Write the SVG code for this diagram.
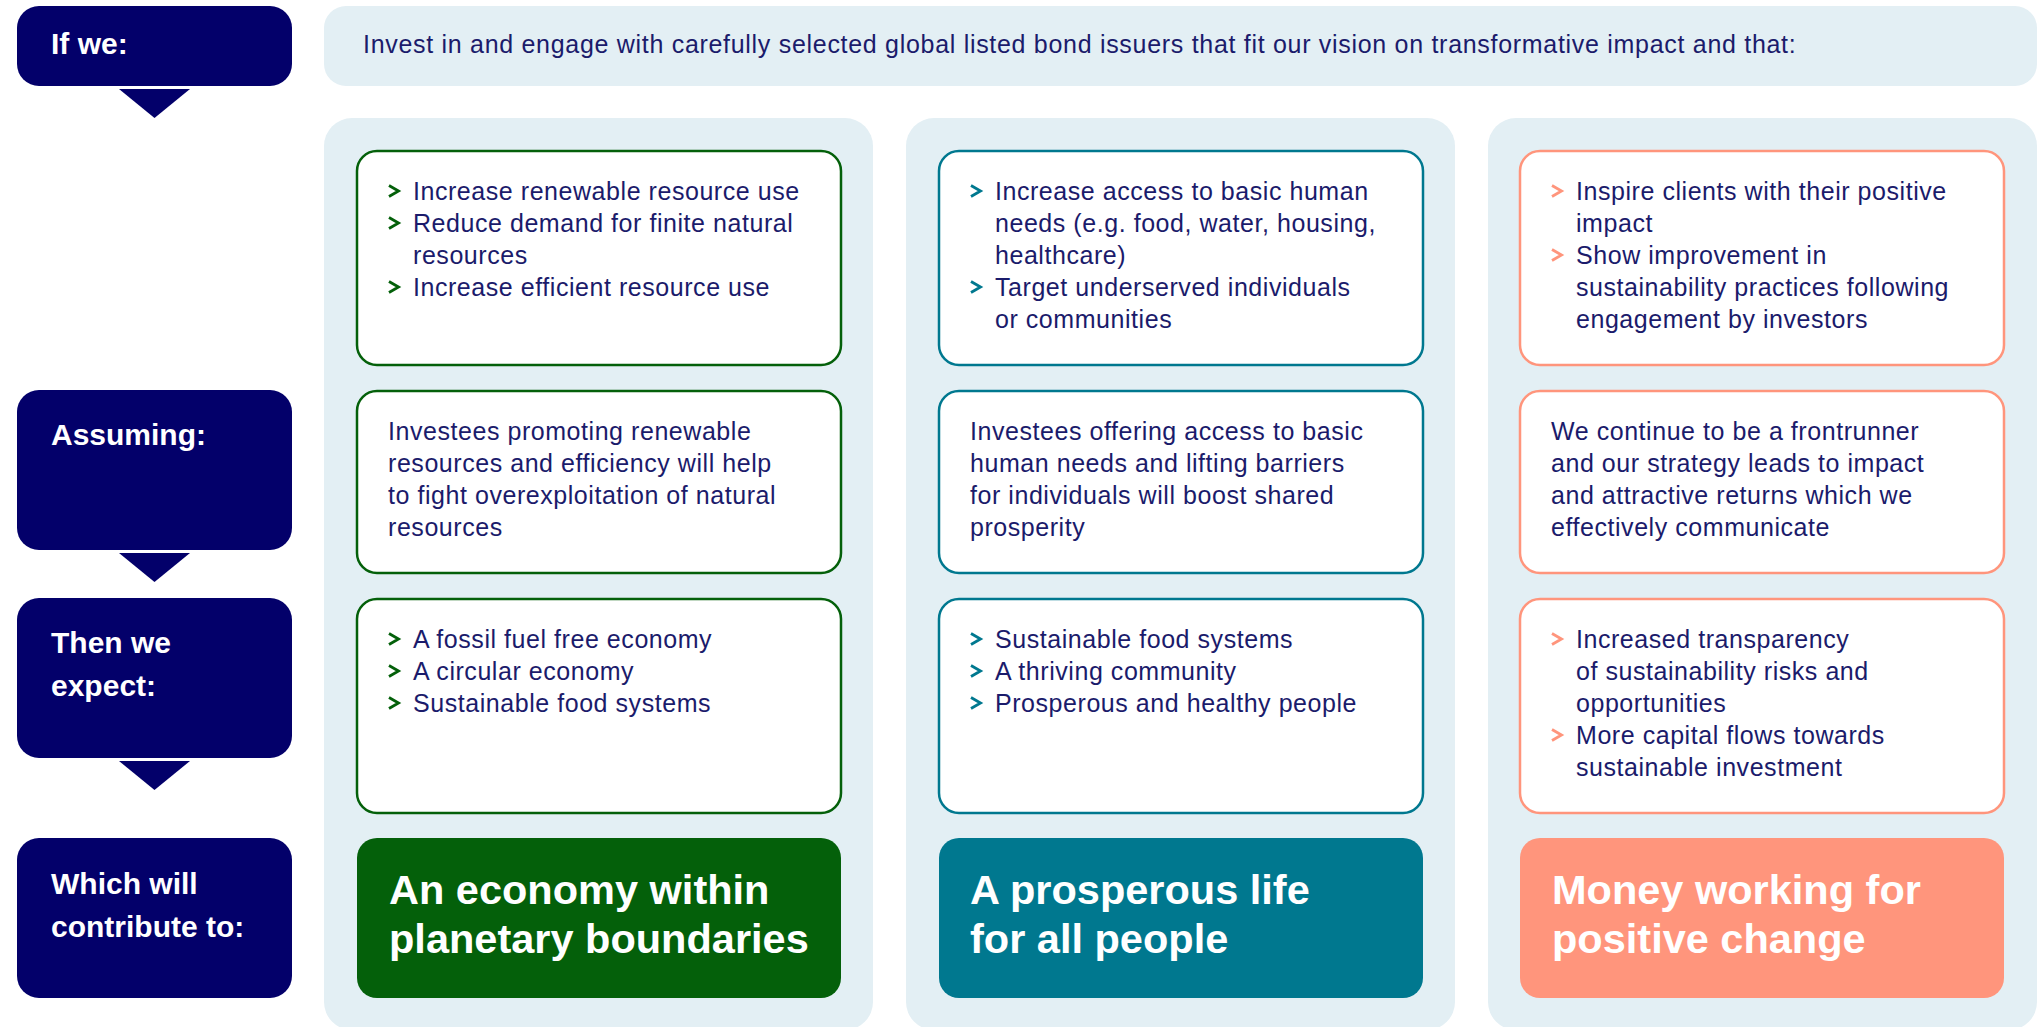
<svg xmlns="http://www.w3.org/2000/svg" xmlns:xlink="http://www.w3.org/1999/xlink" width="2042" height="1027" viewBox="0 0 2042 1027">
<defs>
<style>
.lbl{fill:#03006a}
.lt{font-family:"Liberation Sans",Arial,sans-serif;font-weight:bold;font-size:30px;fill:#ffffff}
.pan{fill:#e3eff4}
.box{fill:#ffffff;stroke-width:2.5}
.g{stroke:#04600a}
.t{stroke:#00788f}
.s{stroke:#ff957c}
.tx{font-family:"Liberation Sans",Arial,sans-serif;font-size:25px;letter-spacing:0.55px;fill:#1b1b6b}
.bn{letter-spacing:0.7px}
.big{font-family:"Liberation Sans",Arial,sans-serif;font-weight:bold;font-size:41.5px;fill:#ffffff}
.chev{fill:none;stroke-width:2.8;stroke-linecap:butt;stroke-linejoin:miter}
.arr{fill:#03006a}
</style>
<path id="cv" d="M0,-5.5 L9.5,0 L0,5.5"/>
</defs>
<rect width="2042" height="1027" fill="#ffffff"/>

<g id="banner">
<rect x="324" y="6" width="1713" height="80" rx="22" class="pan"/>
<text x="363" y="53" class="tx bn">Invest in and engage with carefully selected global listed bond issuers that fit our vision on transformative impact and that:</text>
</g>

<g id="panels">
<rect x="324" y="118" width="549" height="912" rx="28" class="pan"/>
<rect x="906" y="118" width="549" height="912" rx="28" class="pan"/>
<rect x="1488" y="118" width="549" height="912" rx="28" class="pan"/>
</g>

<g id="label-if">
<rect x="17" y="6" width="275" height="80" rx="22" class="lbl"/>
<text x="51" y="54" class="lt">If we:</text>
</g>
<g id="label-assuming">
<rect x="17" y="390" width="275" height="160" rx="22" class="lbl"/>
<text x="51" y="445" class="lt">Assuming:</text>
</g>
<g id="label-then">
<rect x="17" y="598" width="275" height="160" rx="22" class="lbl"/>
<text x="51" y="653" class="lt">Then we</text>
<text x="51" y="696" class="lt">expect:</text>
</g>
<g id="label-which">
<rect x="17" y="838" width="275" height="160" rx="22" class="lbl"/>
<text x="51" y="894" class="lt">Which will</text>
<text x="51" y="937" class="lt">contribute to:</text>
</g>

<g id="connectors">
<polygon points="119,89 190,89 154.5,118" class="arr"/>
<polygon points="119,553 190,553 154.5,582" class="arr"/>
<polygon points="119,761 190,761 154.5,790" class="arr"/>
</g>

<!-- Column 1 -->
<g id="c1r1">
<rect x="357" y="151" width="484" height="214" rx="20" class="box g"/>
<g class="chev g"><use xlink:href="#cv" x="389" y="191"/><use xlink:href="#cv" x="389" y="223"/><use xlink:href="#cv" x="389" y="287"/></g>
<text class="tx"><tspan x="413" y="200">Increase renewable resource use</tspan><tspan x="413" y="232">Reduce demand for finite natural</tspan><tspan x="413" y="264">resources</tspan><tspan x="413" y="296">Increase efficient resource use</tspan></text>
</g>
<g id="c1r2">
<rect x="357" y="391" width="484" height="182" rx="20" class="box g"/>
<text class="tx"><tspan x="388" y="440">Investees promoting renewable</tspan><tspan x="388" y="472">resources and efficiency will help</tspan><tspan x="388" y="504">to fight overexploitation of natural</tspan><tspan x="388" y="536">resources</tspan></text>
</g>
<g id="c1r3">
<rect x="357" y="599" width="484" height="214" rx="20" class="box g"/>
<g class="chev g"><use xlink:href="#cv" x="389" y="639"/><use xlink:href="#cv" x="389" y="671"/><use xlink:href="#cv" x="389" y="703"/></g>
<text class="tx"><tspan x="413" y="648">A fossil fuel free economy</tspan><tspan x="413" y="680">A circular economy</tspan><tspan x="413" y="712">Sustainable food systems</tspan></text>
</g>
<g id="c1r4">
<rect x="357" y="838" width="484" height="160" rx="20" fill="#04600a"/>
<text class="big"><tspan x="389" y="904">An economy within</tspan><tspan x="389" y="953">planetary boundaries</tspan></text>
</g>

<!-- Column 2 -->
<g id="c2r1">
<rect x="939" y="151" width="484" height="214" rx="20" class="box t"/>
<g class="chev t"><use xlink:href="#cv" x="971" y="191"/><use xlink:href="#cv" x="971" y="287"/></g>
<text class="tx"><tspan x="995" y="200">Increase access to basic human</tspan><tspan x="995" y="232">needs (e.g. food, water, housing,</tspan><tspan x="995" y="264">healthcare)</tspan><tspan x="995" y="296">Target underserved individuals</tspan><tspan x="995" y="328">or communities</tspan></text>
</g>
<g id="c2r2">
<rect x="939" y="391" width="484" height="182" rx="20" class="box t"/>
<text class="tx"><tspan x="970" y="440">Investees offering access to basic</tspan><tspan x="970" y="472">human needs and lifting barriers</tspan><tspan x="970" y="504">for individuals will boost shared</tspan><tspan x="970" y="536">prosperity</tspan></text>
</g>
<g id="c2r3">
<rect x="939" y="599" width="484" height="214" rx="20" class="box t"/>
<g class="chev t"><use xlink:href="#cv" x="971" y="639"/><use xlink:href="#cv" x="971" y="671"/><use xlink:href="#cv" x="971" y="703"/></g>
<text class="tx"><tspan x="995" y="648">Sustainable food systems</tspan><tspan x="995" y="680">A thriving community</tspan><tspan x="995" y="712">Prosperous and healthy people</tspan></text>
</g>
<g id="c2r4">
<rect x="939" y="838" width="484" height="160" rx="20" fill="#00788f"/>
<text class="big"><tspan x="970" y="904">A prosperous life</tspan><tspan x="970" y="953">for all people</tspan></text>
</g>

<!-- Column 3 -->
<g id="c3r1">
<rect x="1520" y="151" width="484" height="214" rx="20" class="box s"/>
<g class="chev s"><use xlink:href="#cv" x="1552" y="191"/><use xlink:href="#cv" x="1552" y="255"/></g>
<text class="tx"><tspan x="1576" y="200">Inspire clients with their positive</tspan><tspan x="1576" y="232">impact</tspan><tspan x="1576" y="264">Show improvement in</tspan><tspan x="1576" y="296">sustainability practices following</tspan><tspan x="1576" y="328">engagement by investors</tspan></text>
</g>
<g id="c3r2">
<rect x="1520" y="391" width="484" height="182" rx="20" class="box s"/>
<text class="tx"><tspan x="1551" y="440">We continue to be a frontrunner</tspan><tspan x="1551" y="472">and our strategy leads to impact</tspan><tspan x="1551" y="504">and attractive returns which we</tspan><tspan x="1551" y="536">effectively communicate</tspan></text>
</g>
<g id="c3r3">
<rect x="1520" y="599" width="484" height="214" rx="20" class="box s"/>
<g class="chev s"><use xlink:href="#cv" x="1552" y="639"/><use xlink:href="#cv" x="1552" y="735"/></g>
<text class="tx"><tspan x="1576" y="648">Increased transparency</tspan><tspan x="1576" y="680">of sustainability risks and</tspan><tspan x="1576" y="712">opportunities</tspan><tspan x="1576" y="744">More capital flows towards</tspan><tspan x="1576" y="776">sustainable investment</tspan></text>
</g>
<g id="c3r4">
<rect x="1520" y="838" width="484" height="160" rx="20" fill="#ff957c"/>
<text class="big"><tspan x="1552" y="904">Money working for</tspan><tspan x="1552" y="953">positive change</tspan></text>
</g>
</svg>
